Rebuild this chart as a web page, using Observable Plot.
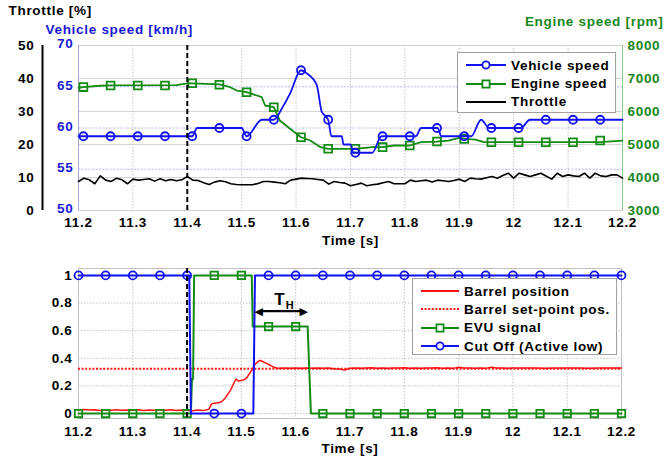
<!DOCTYPE html>
<html>
<head>
<meta charset="utf-8">
<script src="https://cdn.jsdelivr.net/npm/d3@7"></script>
<script src="https://cdn.jsdelivr.net/npm/@observablehq/plot@0.6"></script>
<style>
  html, body { margin: 0; padding: 0; background: #fff; }
  body { width: 665px; height: 457px; overflow: hidden; position: relative;
         font-family: "Liberation Sans", Arial, sans-serif; }
  #topChart, #botChart { position: absolute; left: 0; }
  #topChart { top: 0; }
  #botChart { top: 250px; }
  .legend { position: absolute; background: #fff; border: 1px solid #a0a0a0; box-sizing: border-box; }
  .legend .row { position: absolute; left: 0; height: 18px; display: flex; align-items: center; }
  .legend .row span { font-size: 13.5px; font-weight: bold; letter-spacing: 0.7px; color: #000; white-space: nowrap; }
</style>
</head>
<body>
<div id="topChart"></div>
<div id="botChart"></div>
<script>
// ---------- shared ----------
const timeTicks = [11.2, 11.3, 11.4, 11.5, 11.6, 11.7, 11.8, 11.9, 12.0, 12.1, 12.2];
const timeTickLabels = ["11.2", "11.3", "11.4", "11.5", "11.6", "11.7", "11.8", "11.9", "12", "12.1", "12.2"];
const eventTime = 11.4;

// ---------- top chart ----------
const speedTicks = [50, 55, 60, 65, 70];
const throttleTicks = [0, 10, 20, 30, 40, 50];
const engineTicks = [3000, 4000, 5000, 6000, 7000, 8000];

const vehicleTime  = [11.2, 11.409, 11.418, 11.5, 11.509, 11.537, 11.559, 11.575, 11.589, 11.609, 11.62, 11.638, 11.647, 11.659, 11.665, 11.684, 11.687, 11.70, 11.705, 11.74, 11.757, 11.82, 11.83, 11.86, 11.867, 11.922, 11.94, 11.955, 12.013, 12.03, 12.2];
const vehicleSpeed = [59, 59, 60, 60, 59, 61, 61, 62.5, 64.2, 67, 66.6, 65.2, 62, 61, 59, 59, 58, 58, 57, 57, 59, 59, 60, 60, 59, 59, 61, 60, 60, 61, 61];
const vehicleMarkTime  = [11.209, 11.259, 11.309, 11.359, 11.409, 11.459, 11.509, 11.559, 11.609, 11.659, 11.709, 11.759, 11.809, 11.859, 11.909, 11.959, 12.009, 12.059, 12.109, 12.159];
const vehicleMarkSpeed = [59, 59, 59, 59, 59, 60, 59, 61, 67, 61, 57, 59, 59, 60, 59, 60, 60, 61, 61, 61];

const engineTime = [11.2, 11.209, 11.24, 11.259, 11.38, 11.40, 11.409, 11.459, 11.479, 11.491, 11.509, 11.528, 11.537, 11.543, 11.559, 11.57, 11.589, 11.609, 11.626, 11.645, 11.659, 11.709, 11.74, 11.759, 11.78, 11.809, 11.83, 11.859, 11.88, 11.9, 11.909, 11.93, 11.945, 11.959, 12.159, 12.2];
const engineRpm  = [6720, 6740, 6780, 6790, 6800, 6850, 6850, 6820, 6736, 6636, 6585, 6485, 6433, 6182, 6130, 5727, 5475, 5220, 5121, 4918, 4870, 4870, 4920, 4920, 4970, 4970, 5070, 5090, 5120, 5200, 5180, 5150, 5070, 5070, 5070, 5120];
const engineMarkTime = vehicleMarkTime;
const engineMarkRpm  = [6740, 6790, 6790, 6790, 6858, 6810, 6585, 6130, 5220, 4870, 4870, 4920, 4970, 5090, 5170, 5070, 5070, 5070, 5070, 5120];

const throttleTime = [11.20,11.21,11.22,11.23,11.24,11.25,11.26,11.27,11.28,11.29,11.30,11.31,11.32,11.33,11.34,11.35,11.36,11.37,11.38,11.39,11.40,
  11.41,11.42,11.43,11.44,11.45,11.46,11.47,11.48,11.49,11.50,11.51,11.52,11.53,11.54,11.55,11.56,11.57,11.58,11.59,11.60,
  11.61,11.62,11.63,11.64,11.65,11.66,11.67,11.68,11.69,11.70,11.71,11.72,11.73,11.74,11.75,11.76,11.77,11.78,11.79,11.80,
  11.81,11.82,11.83,11.84,11.85,11.86,11.87,11.88,11.89,11.90,11.91,11.92,11.93,11.94,11.95,11.96,11.97,11.98,11.99,12.00,
  12.01,12.02,12.03,12.04,12.05,12.06,12.07,12.08,12.09,12.10,12.11,12.12,12.13,12.14,12.15,12.16,12.17,12.18,12.19,12.20];
const throttleValue = [8.8,9.8,9.3,8.1,10.5,9.2,8.8,9.8,9.3,8.1,9.5,9.2,9.4,9.6,8.9,9.6,9.0,9.4,9.0,9.3,10.3,
  9.2,9.1,8.4,7.9,8.6,9.0,8.7,8.1,7.9,7.8,7.8,7.8,8.2,8.8,8.8,8.6,8.4,8.1,9.2,9.5,
  9.8,9.7,9.6,9.4,9.2,8.0,8.8,8.5,8.3,7.5,7.9,8.3,7.5,7.8,8.0,8.4,8.8,8.1,8.1,8.1,
  9.2,8.8,9.0,9.2,8.6,9.2,9.0,8.8,9.1,9.5,8.8,9.8,9.6,9.5,9.9,10.3,9.8,10.6,11.3,9.8,
  11.3,10.8,10.3,10.8,11.3,10.4,9.5,11.3,10.3,10.8,10.5,10.3,11.3,9.8,11.3,10.5,10.3,10.8,10.8,9.8];

// ---------- bottom chart ----------
const signalTicks = [0, 0.2, 0.4, 0.6, 0.8, 1];
const signalTickLabels = ["0", "0.2", "0.4", "0.6", "0.8", "1"];
const setPoint = 0.325;

const barrelTime = [11.20,11.21,11.22,11.23,11.24,11.25,11.26,11.27,11.28,11.29,11.30,11.31,11.32,11.33,11.34,11.35,11.36,11.37,11.38,11.39,11.40,11.41,11.42,11.43,11.44,
  11.445,11.45,11.46,11.465,11.47,11.475,11.48,11.485,11.49,11.495,11.50,11.505,11.51,11.515,11.52,11.525,11.53,11.535,11.54,11.545,11.55,11.555,11.56,11.565,11.57,
  11.58,11.59,11.60,11.61,11.62,11.63,11.64,11.65,11.66,11.67,11.68,11.69,11.70,11.71,11.72,11.73,11.74,11.75,11.76,11.77,11.78,11.79,11.80,
  11.81,11.82,11.83,11.84,11.85,11.86,11.87,11.88,11.89,11.90,11.91,11.92,11.93,11.94,11.95,11.96,11.97,11.98,11.99,12.00,
  12.02,12.04,12.06,12.08,12.10,12.12,12.14,12.16,12.18,12.20];
const barrelPos = [0.025,0.030,0.025,0.028,0.022,0.027,0.024,0.028,0.023,0.026,0.024,0.027,0.022,0.026,0.023,0.027,0.024,0.028,0.022,0.026,0.024,0.020,0.025,0.022,0.030,
  0.070,0.075,0.080,0.090,0.110,0.140,0.170,0.210,0.250,0.235,0.240,0.245,0.260,0.290,0.320,0.355,0.375,0.385,0.375,0.365,0.355,0.345,0.335,0.330,0.328,
  0.330,0.327,0.330,0.328,0.330,0.327,0.330,0.328,0.330,0.325,0.322,0.315,0.328,0.330,0.327,0.329,0.331,0.328,0.330,0.327,0.330,0.329,0.331,
  0.328,0.330,0.327,0.330,0.329,0.331,0.328,0.330,0.327,0.335,0.329,0.330,0.328,0.330,0.327,0.336,0.329,0.330,0.328,0.330,
  0.329,0.330,0.328,0.330,0.329,0.330,0.328,0.330,0.329,0.330];

const evuTime  = [11.2, 11.407, 11.409, 11.411, 11.413, 11.519, 11.521, 11.622, 11.628, 12.2];
const evuValue = [0, 0, 0.25, 0.25, 1, 1, 0.63, 0.63, 0, 0];
const markTime = [11.2,11.25,11.3,11.35,11.4,11.45,11.5,11.55,11.6,11.65,11.7,11.75,11.8,11.85,11.9,11.95,12.0,12.05,12.1,12.15,12.2];
const evuMark  = [0,0,0,0,0,1,1,0.63,0.63,0,0,0,0,0,0,0,0,0,0,0,0];

const cutTime  = [11.2, 11.404, 11.407, 11.522, 11.525, 12.2];
const cutValue = [1, 1, 0, 0, 1, 1];
const cutMark  = [1,1,1,1,1,0,0,1,1,1,1,1,1,1,1,1,1,1,1,1,1];

const holdStart = 11.526, holdEnd = 11.622, holdLevel = 0.741;

// ---------- colours ----------
const BLUE = "#1010f0", GREEN = "#138a13", RED = "#ff1010";
const BLUE_TXT = "#1a1ad8", GREEN_TXT = "#17871a";

// ---------- helpers ----------
const labelOf = new Map(timeTicks.map((t, i) => [t, timeTickLabels[i]]));
const rpmToSpeed = rpm => 50 + (rpm - 3000) / 250;   // right axis → shared y scale
const thrToSpeed = p => 50 + p * 0.4;                 // throttle axis → shared y scale
const speedToRpm = s => String(Math.round(3000 + (s - 50) * 250));
const speedToThr = s => String(Math.round((s - 50) * 2.5));
const rows = (ts, vs, f = v => v) => ts.map((t, i) => ({t, v: f(vs[i])}));

const plotStyle = {
  fontFamily: "'Liberation Sans', Arial, sans-serif",
  fontSize: "13.5px",
  fontWeight: "bold",
  letterSpacing: "0.7px",
  background: "transparent",
  color: "#000"
};

const innerTicks = timeTicks.slice(1, -1);

const topPlot = Plot.plot({
  width: 665, height: 250,
  marginLeft: 78, marginRight: 43, marginTop: 45, marginBottom: 40,
  x: {domain: [11.2, 12.2]},
  y: {domain: [50, 70]},
  style: plotStyle,
  marks: [
    Plot.gridX(innerTicks, {stroke: "#c4c4c4", strokeOpacity: 1, strokeDasharray: "1.5,1.5"}),
    Plot.gridY(engineTicks.slice(1, -1).map(rpmToSpeed), {stroke: "#d4d4d4", strokeOpacity: 1}),
    Plot.gridY(speedTicks.slice(1, -1), {stroke: "#b8b8ff", strokeOpacity: 1, strokeDasharray: "2,1.5"}),
    Plot.frame({stroke: "#cfcfcf"}),
    Plot.ruleX([11.2], {stroke: "#a8a8dd"}),
    Plot.ruleX([12.2], {stroke: "#88c888"}),
    // throttle axis (outer left)
    Plot.ruleX([11.2], {y1: 50, y2: 70, dx: -36, stroke: "#000", strokeWidth: 2}),
    Plot.axisY(throttleTicks.map(thrToSpeed), {anchor: "left", tickSize: 0, tickPadding: 8, dx: -36,
      tickFormat: speedToThr, label: null, fill: "#000"}),
    // vehicle speed axis
    Plot.axisY(speedTicks, {anchor: "left", tickSize: 0, tickPadding: 5, dy: -1.5, label: null, fill: BLUE_TXT}),
    // engine speed axis
    Plot.axisY(engineTicks.map(rpmToSpeed), {anchor: "right", tickSize: 0, tickPadding: 5,
      tickFormat: speedToRpm, label: null, fill: GREEN_TXT}),
    Plot.axisX(timeTicks, {tickSize: 0, tickPadding: 6.5, tickFormat: d => labelOf.get(d), label: null}),
    Plot.text(["Time [s]"], {frameAnchor: "bottom", dy: 30, lineAnchor: "middle"}),
    Plot.text(["Throttle [%]"], {frameAnchor: "top-left", dx: -70, dy: -35, textAnchor: "start", lineAnchor: "middle"}),
    Plot.text(["Vehicle speed [km/h]"], {frameAnchor: "top-left", dx: -33, dy: -15.5, textAnchor: "start", lineAnchor: "middle", fill: BLUE_TXT}),
    Plot.text(["Engine speed [rpm]"], {frameAnchor: "top-right", dx: 41, dy: -24, textAnchor: "end", lineAnchor: "middle", fill: GREEN_TXT}),
    // data
    Plot.line(rows(throttleTime, throttleValue, thrToSpeed), {x: "t", y: "v", stroke: "#000", strokeWidth: 1.6}),
    Plot.line(rows(engineTime, engineRpm, rpmToSpeed), {x: "t", y: "v", stroke: GREEN, strokeWidth: 1.8, curve: "linear"}),
    Plot.dot(rows(engineMarkTime, engineMarkRpm, rpmToSpeed), {x: "t", y: "v", symbol: "square", r: 4.4, stroke: GREEN, strokeWidth: 1.8, fill: "none"}),
    Plot.line(rows(vehicleTime, vehicleSpeed), {x: "t", y: "v", stroke: BLUE, strokeWidth: 1.8, curve: "monotone-x"}),
    Plot.dot(rows(vehicleMarkTime, vehicleMarkSpeed), {x: "t", y: "v", symbol: "circle", r: 4, stroke: BLUE, strokeWidth: 1.8, fill: "none"}),
    Plot.ruleX([eventTime], {stroke: "#000", strokeWidth: 2, strokeDasharray: "5,3"})
  ]
});
document.getElementById("topChart").append(topPlot);

const botPlot = Plot.plot({
  width: 665, height: 207,
  marginLeft: 78, marginRight: 44, marginTop: 18, marginBottom: 39,
  x: {domain: [11.2, 12.2]},
  y: {domain: [-0.036, 1.05]},
  style: plotStyle,
  marks: [
    Plot.gridX(innerTicks, {stroke: "#c4c4c4", strokeOpacity: 1, strokeDasharray: "1.5,1.5"}),
    Plot.gridY(signalTicks, {stroke: "#c4c4c4", strokeOpacity: 1, strokeDasharray: "1.5,1.5"}),
    Plot.frame({stroke: "#c0c0c0"}),
    Plot.axisY(signalTicks, {anchor: "left", tickSize: 0, tickPadding: 6,
      tickFormat: d => signalTickLabels[signalTicks.indexOf(d)], label: null}),
    Plot.axisX(timeTicks, {tickSize: 0, tickPadding: 8, tickFormat: d => labelOf.get(d), label: null}),
    Plot.text(["Time [s]"], {frameAnchor: "bottom", dy: 30, lineAnchor: "middle"}),
    Plot.ruleY([setPoint], {stroke: RED, strokeWidth: 2, strokeDasharray: "2,1.6"}),
    Plot.line(rows(barrelTime, barrelPos), {x: "t", y: "v", stroke: RED, strokeWidth: 1.5}),
    Plot.line(rows(evuTime, evuValue), {x: "t", y: "v", stroke: GREEN, strokeWidth: 2}),
    Plot.dot(rows(markTime, evuMark), {x: "t", y: "v", symbol: "square", r: 4.2, stroke: GREEN, strokeWidth: 1.8, fill: "none"}),
    Plot.line(rows(cutTime, cutValue), {x: "t", y: "v", stroke: BLUE, strokeWidth: 2}),
    Plot.dot(rows(markTime, cutMark), {x: "t", y: "v", symbol: "circle", r: 4, stroke: BLUE, strokeWidth: 1.8, fill: "none"}),
    Plot.ruleX([eventTime], {stroke: "#000", strokeWidth: 2, strokeDasharray: "5,3"}),
    // T_H annotation
    Plot.link([{a: holdStart + 0.006, b: holdEnd - 0.006, y: holdLevel}], {x1: "a", x2: "b", y1: "y", y2: "y", stroke: "#000", strokeWidth: 2.2}),
    Plot.text([{x: holdStart, y: holdLevel}], {x: "x", y: "y", text: () => "◀", textAnchor: "start", lineAnchor: "middle", fontSize: 11, fontFamily: "DejaVu Sans", dx: -1}),
    Plot.text([{x: holdEnd, y: holdLevel}], {x: "x", y: "y", text: () => "▶", textAnchor: "end", lineAnchor: "middle", fontSize: 11, fontFamily: "DejaVu Sans", dx: 1}),
    Plot.text([{x: 11.5705, y: 0.826}], {x: "x", y: "y", text: () => "T", fontSize: 17, lineAnchor: "middle"}),
    Plot.text([{x: 11.5895, y: 0.785}], {x: "x", y: "y", text: () => "H", fontSize: 11, lineAnchor: "middle"})
  ]
});
document.getElementById("botChart").append(botPlot);

// ---------- legends (HTML overlays) ----------
function legend(box, items) {
  const div = d3.select("body").append("div").attr("class", "legend")
    .style("left", box.left + "px").style("top", box.top + "px")
    .style("width", box.width + "px").style("height", box.height + "px");
  items.forEach((it, i) => {
    const row = div.append("div").attr("class", "row").style("top", (box.rows[i] - 9) + "px");
    const svg = row.append("svg").attr("width", box.textX).attr("height", 18);
    svg.append("line").attr("x1", box.sw0).attr("x2", box.sw1).attr("y1", 9).attr("y2", 9)
      .attr("stroke", it.color).attr("stroke-width", it.dash ? 2 : 1.8).attr("stroke-dasharray", it.dash || null);
    const cx = (box.sw0 + box.sw1) / 2;
    if (it.marker === "circle") svg.append("circle").attr("cx", cx).attr("cy", 9).attr("r", 3.6)
      .attr("fill", "#fff").attr("stroke", it.color).attr("stroke-width", 1.8);
    if (it.marker === "square") svg.append("rect").attr("x", cx - 3.6).attr("y", 5.4).attr("width", 7.2).attr("height", 7.2)
      .attr("fill", "#fff").attr("stroke", it.color).attr("stroke-width", 1.8);
    row.append("span").text(it.label);
  });
}
legend({left: 457, top: 52, width: 159, height: 61, rows: [12, 30.5, 48.5], sw0: 8, sw1: 48, textX: 53},
  [{label: "Vehicle speed", color: BLUE, marker: "circle"},
   {label: "Engine speed", color: GREEN, marker: "square"},
   {label: "Throttle", color: "#000"}]);
legend({left: 412, top: 278, width: 205, height: 77, rows: [12, 30.3, 48.7, 67], sw0: 8, sw1: 46, textX: 51},
  [{label: "Barrel position", color: RED},
   {label: "Barrel set-point pos.", color: RED, dash: "2,1.6"},
   {label: "EVU signal", color: GREEN, marker: "square"},
   {label: "Cut Off (Active low)", color: BLUE, marker: "circle"}]);
</script>
</body>
</html>
